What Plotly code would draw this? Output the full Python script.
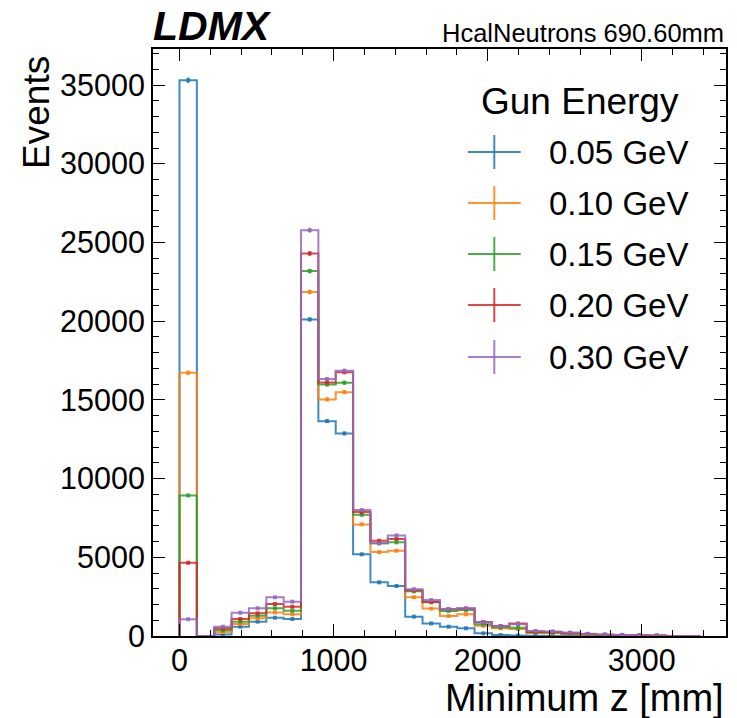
import numpy as np
import plotly.graph_objects as go

# ---------------- data ----------------
BIN_EDGES = list(np.linspace(0, 3380, 31))  # 30 bins in Minimum z [mm]

ENERGY_LABELS = ["0.05 GeV", "0.10 GeV", "0.15 GeV", "0.20 GeV", "0.30 GeV"]

counts_005 = [35300, 0, 100, 590, 910, 1160, 1080, 20110, 13650, 12870, 5190, 3410, 3175,
              1230, 800, 590, 490, 170, 60, 30, 10, 5, 3, 2, 1, 0, 0, 0, 0, 0]
counts_010 = [16720, 0, 250, 760, 1120, 1500, 1380, 21860, 15030, 15490, 7090, 5330, 5420,
              2460, 1740, 1270, 1380, 650, 490, 445, 190, 170, 120, 70, 50, 30, 20, 10, 0, 0]
counts_015 = [8930, 0, 380, 910, 1290, 1760, 1610, 23180, 15980, 16090, 7700, 5890, 5950,
              2840, 2140, 1590, 1650, 740, 550, 530, 240, 220, 160, 100, 70, 50, 30, 20, 0, 0]
counts_020 = [4650, 0, 490, 1080, 1440, 2030, 1860, 24300, 16110, 16760, 7870, 6050, 6160,
              2900, 2180, 1700, 1740, 890, 635, 790, 270, 250, 180, 120, 80, 60, 40, 25, 0, 0]
counts_030 = [1060, 0, 590, 1480, 1760, 2460, 2180, 25780, 16320, 16850, 8000, 5890, 6390,
              2970, 2290, 1715, 1760, 870, 635, 740, 320, 290, 220, 140, 100, 70, 50, 30, 0, 0]

SERIES = [counts_005, counts_010, counts_015, counts_020, counts_030]
COLORS = ["rgba(31,119,180,0.85)", "rgba(255,127,14,0.85)", "rgba(44,160,44,0.85)",
          "rgba(214,39,40,0.85)", "rgba(148,103,189,0.85)"]

X_TICKS = [0, 1000, 2000, 3000]
Y_TICKS = [0, 5000, 10000, 15000, 20000, 25000, 30000, 35000]

# ---------------- layout geometry ----------------
W, H = 737, 718
L, R, T, B = 153, 728, 49, 636
FONT = "Liberation Sans, Arial, Helvetica, sans-serif"


def px(xp):
    return (xp - L) / (R - L)


def py(yp):
    return (B - yp) / (B - T)


fig = go.Figure()

edges = np.array(BIN_EDGES)
centers = 0.5 * (edges[:-1] + edges[1:])

for vals, col, lab in zip(SERIES, COLORS, ENERGY_LABELS):
    vals = np.array(vals, dtype=float)
    xs = [edges[0]] + list(edges)
    ys = [0.0] + list(vals) + [0.0]
    fig.add_trace(go.Scatter(x=xs, y=ys, mode="lines", line=dict(color=col, width=2, shape="hv"),
                             name=lab, showlegend=False, hoverinfo="skip"))
    mask = vals > 0
    fig.add_trace(go.Scatter(x=centers[mask], y=vals[mask], mode="markers",
                             marker=dict(color=col, size=4, symbol="square"),
                             error_y=dict(type="data", array=np.sqrt(vals[mask]), color=col,
                                          thickness=1.5, width=0),
                             showlegend=False, hoverinfo="skip"))

axis_common = dict(
    showgrid=False, zeroline=False, showline=True, linecolor="black", linewidth=2,
    mirror="allticks", ticks="inside", ticklen=12, tickwidth=1.2, tickcolor="black",
    tickfont=dict(family=FONT, size=30.5, color="black"),
)

fig.update_xaxes(range=[-172, 3547], tickvals=X_TICKS, ticktext=[str(v) for v in X_TICKS],
                 minor=dict(dtick=200, ticks="inside", ticklen=6, tickwidth=1, tickcolor="black"),
                 ticklabelstandoff=-4, **axis_common)
fig.update_yaxes(range=[0, 37290], tickvals=Y_TICKS, ticktext=[str(v) for v in Y_TICKS],
                 minor=dict(dtick=1000, ticks="inside", ticklen=6, tickwidth=1, tickcolor="black"),
                 ticklabelstandoff=0, **axis_common)

annotations = []
shapes = []

# axis titles
annotations.append(dict(text="Events", x=px(36), y=py(54), xref="paper", yref="paper",
                        xanchor="center", yanchor="top", textangle=-90, showarrow=False,
                        font=dict(family=FONT, size=37, color="black")))
annotations.append(dict(text="Minimum z [mm]", x=px(728), y=py(698), xref="paper", yref="paper",
                        xanchor="right", yanchor="middle", showarrow=False,
                        font=dict(family=FONT, size=38, color="black")))
# header texts
annotations.append(dict(text="<b><i>LDMX</i></b>", x=px(151), y=py(26), xref="paper", yref="paper",
                        xanchor="left", yanchor="middle", showarrow=False,
                        font=dict(family=FONT, size=41, color="black")))
annotations.append(dict(text="HcalNeutrons 690.60mm", x=px(728), y=py(33), xref="paper",
                        yref="paper", xanchor="right", yanchor="middle", showarrow=False,
                        font=dict(family=FONT, size=25.5, color="black")))

# legend (drawn manually)
annotations.append(dict(text="Gun Energy", x=px(581), y=py(102), xref="paper", yref="paper",
                        xanchor="center", yanchor="middle", showarrow=False,
                        font=dict(family=FONT, size=37, color="black")))
entry_y = [152, 203, 254, 305, 357]
for lab, col, ey in zip(ENERGY_LABELS, COLORS, entry_y):
    shapes.append(dict(type="line", xref="paper", yref="paper", x0=px(469), x1=px(522),
                       y0=py(ey), y1=py(ey), line=dict(color=col, width=2)))
    shapes.append(dict(type="line", xref="paper", yref="paper", x0=px(495.5), x1=px(495.5),
                       y0=py(ey - 17), y1=py(ey + 17), line=dict(color=col, width=2)))
    annotations.append(dict(text=lab, x=px(548), y=py(ey), xref="paper", yref="paper",
                            xanchor="left", yanchor="middle", showarrow=False,
                            font=dict(family=FONT, size=33, color="black")))

fig.update_layout(
    width=W, height=H,
    margin=dict(l=L, r=W - R, t=T, b=H - B, pad=0),
    paper_bgcolor="white", plot_bgcolor="white",
    showlegend=False,
    annotations=annotations, shapes=shapes,
    font=dict(family=FONT, color="black"),
)

fig.write_html("out.html", config={"displayModeBar": False},
               post_script="document.body.style.margin='0';document.body.style.overflow='hidden';")
